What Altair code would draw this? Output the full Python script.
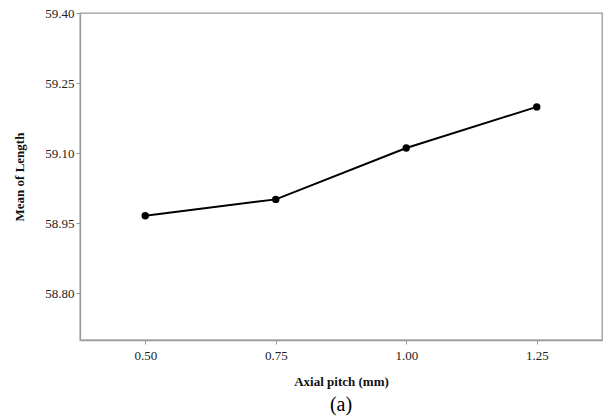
import altair as alt
import pandas as pd

pitch = [0.50, 0.75, 1.00, 1.25]
mean_length = [58.966, 59.001, 59.111, 59.199]
x_ticks = [0.50, 0.75, 1.00, 1.25]
y_ticks = [58.80, 58.95, 59.10, 59.25, 59.40]

df = pd.DataFrame({"pitch": pitch, "mean": mean_length})

FONT = "Liberation Serif"

x = alt.X("pitch:Q",
          scale=alt.Scale(domain=[0.375, 1.375], nice=False, zero=False),
          axis=alt.Axis(values=x_ticks, format=".2f", title="Axial pitch (mm)",
                        grid=False, tickSize=4, labelPadding=5, titlePadding=13))
y = alt.Y("mean:Q",
          scale=alt.Scale(domain=[58.70, 59.40], nice=False, zero=False),
          axis=alt.Axis(values=y_ticks, format=".2f", title="Mean of  Length",
                        grid=False, tickSize=4, labelPadding=2, titlePadding=18))

line = alt.Chart(df).mark_line(color="black", strokeWidth=2).encode(x=x, y=y)
pts = alt.Chart(df).mark_circle(color="black", size=55, opacity=1).encode(x=x, y=y)

chart = (line + pts).properties(
    width=522, height=327,
    background="white",
    padding={"left": 80, "top": 13, "right": 2, "bottom": 77},
    autosize=alt.AutoSizeParams(type="none"),
    title=alt.TitleParams("(a)", orient="bottom", font=FONT, fontSize=20,
                          fontWeight="normal", color="black", offset=7),
).configure_view(stroke="#999999", strokeWidth=1.3).configure_axis(
    labelFont=FONT, labelFontSize=13, labelColor="#222222",
    titleFont=FONT, titleFontSize=13, titleFontWeight="bold", titleColor="#111111",
    domainColor="#999999", tickColor="#999999", domainWidth=1.3
)

chart.save("out.html", embed_options={"renderer": "svg", "actions": False})
